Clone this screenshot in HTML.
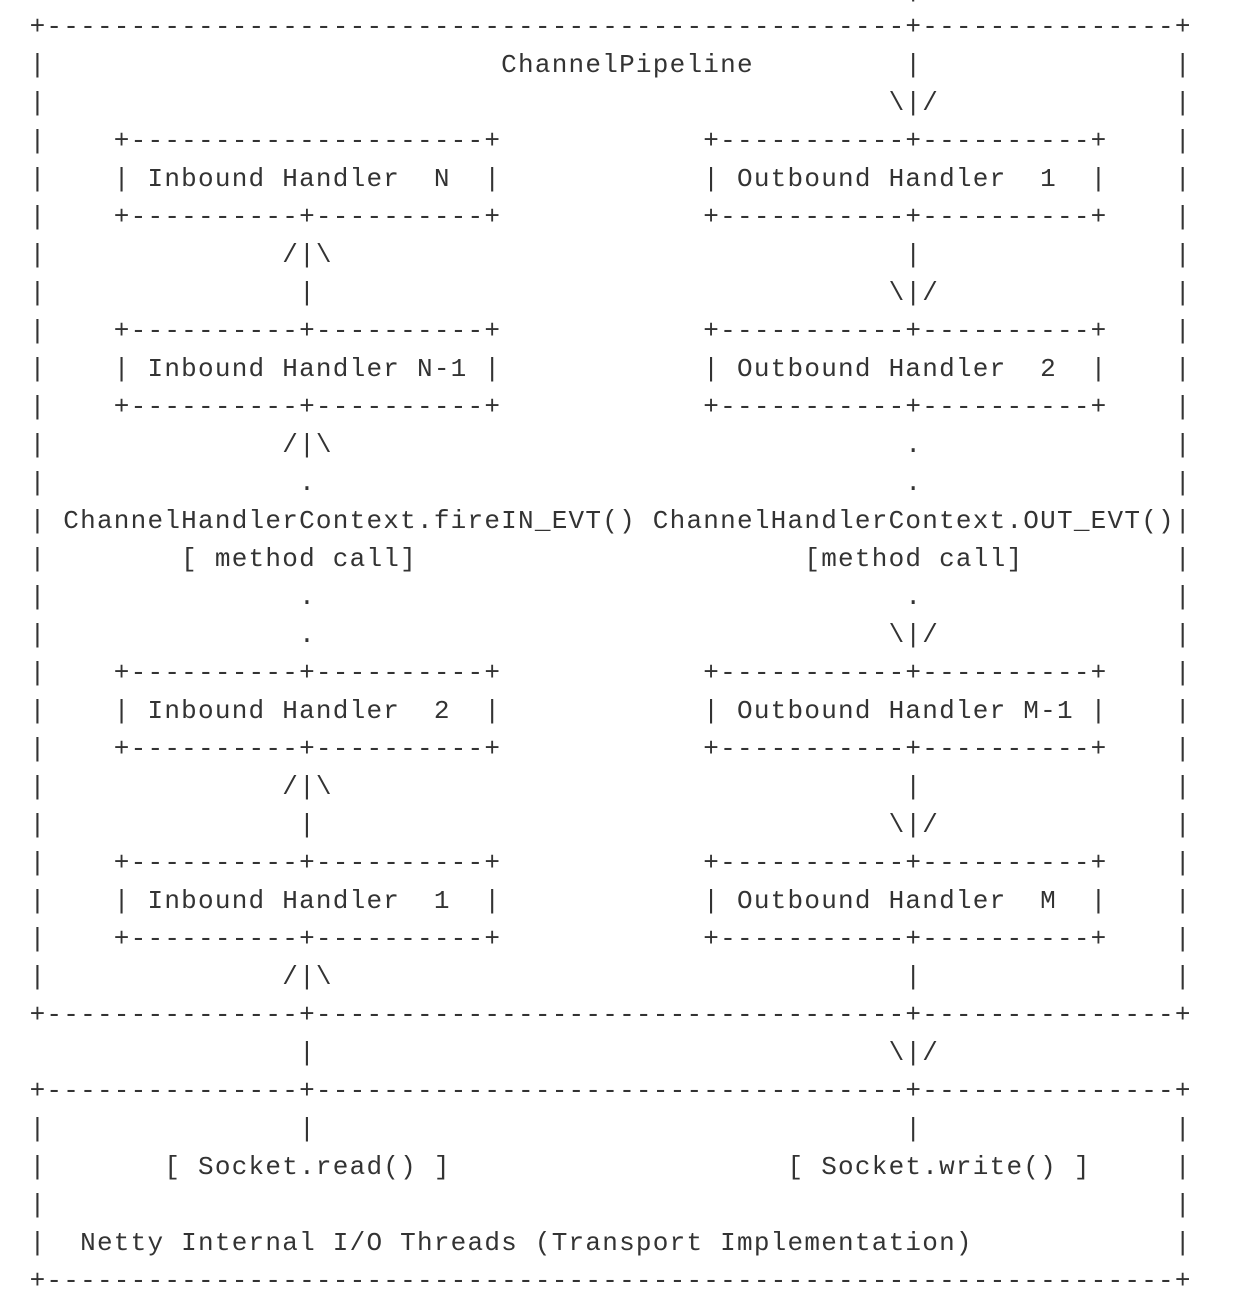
<!DOCTYPE html>
<html><head><meta charset="utf-8"><style>
html,body{margin:0;padding:0;background:#fff;width:1238px;height:1298px;overflow:hidden;}
pre{position:absolute;left:29.6px;top:-30px;margin:0;font-family:"Liberation Mono",monospace;font-size:26px;letter-spacing:1.24px;line-height:38px;color:#333;white-space:pre;}
</style></head><body>
<pre>                                                    |
+---------------------------------------------------+---------------+
|                           ChannelPipeline         |               |
|                                                  \|/              |
|    +---------------------+            +-----------+----------+    |
|    | Inbound Handler  N  |            | Outbound Handler  1  |    |
|    +----------+----------+            +-----------+----------+    |
|              /|\                                  |               |
|               |                                  \|/              |
|    +----------+----------+            +-----------+----------+    |
|    | Inbound Handler N-1 |            | Outbound Handler  2  |    |
|    +----------+----------+            +-----------+----------+    |
|              /|\                                  .               |
|               .                                   .               |
| ChannelHandlerContext.fireIN_EVT() ChannelHandlerContext.OUT_EVT()|
|        [ method call]                       [method call]         |
|               .                                   .               |
|               .                                  \|/              |
|    +----------+----------+            +-----------+----------+    |
|    | Inbound Handler  2  |            | Outbound Handler M-1 |    |
|    +----------+----------+            +-----------+----------+    |
|              /|\                                  |               |
|               |                                  \|/              |
|    +----------+----------+            +-----------+----------+    |
|    | Inbound Handler  1  |            | Outbound Handler  M  |    |
|    +----------+----------+            +-----------+----------+    |
|              /|\                                  |               |
+---------------+-----------------------------------+---------------+
                |                                  \|/
+---------------+-----------------------------------+---------------+
|               |                                   |               |
|       [ Socket.read() ]                    [ Socket.write() ]     |
|                                                                   |
|  Netty Internal I/O Threads (Transport Implementation)            |
+-------------------------------------------------------------------+</pre>
</body></html>
